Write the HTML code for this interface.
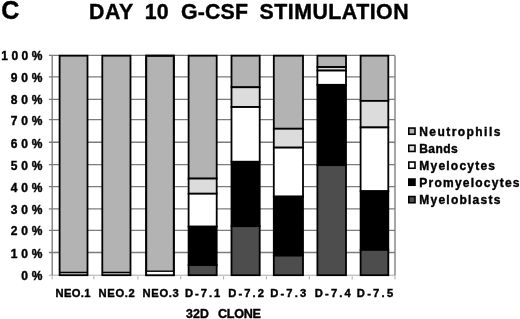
<!DOCTYPE html>
<html><head><meta charset="utf-8"><title>Day 10 G-CSF Stimulation</title>
<style>
html,body{margin:0;padding:0;background:#fff;}
body{width:520px;height:319px;position:relative;overflow:hidden;font-family:"Liberation Sans",sans-serif;}
.t{position:absolute;white-space:pre;font-weight:bold;color:#000;line-height:normal;font-kerning:normal;-webkit-text-stroke:0.4px #000;}
</style></head><body>
<svg width="520" height="319" viewBox="0 0 520 319" style="position:absolute;left:0;top:0">
<line x1="48.900000000000006" y1="275.2" x2="395.0" y2="275.2" stroke="#a0a0a0" stroke-width="0.9"/>
<line x1="48.900000000000006" y1="252.50" x2="395.0" y2="252.50" stroke="#7c7c7c" stroke-width="1.35"/>
<line x1="48.900000000000006" y1="230.40" x2="395.0" y2="230.40" stroke="#7c7c7c" stroke-width="1.35"/>
<line x1="48.900000000000006" y1="208.80" x2="395.0" y2="208.80" stroke="#7c7c7c" stroke-width="1.35"/>
<line x1="48.900000000000006" y1="186.60" x2="395.0" y2="186.60" stroke="#7c7c7c" stroke-width="1.35"/>
<line x1="48.900000000000006" y1="164.65" x2="395.0" y2="164.65" stroke="#7c7c7c" stroke-width="1.35"/>
<line x1="48.900000000000006" y1="142.20" x2="395.0" y2="142.20" stroke="#7c7c7c" stroke-width="1.35"/>
<line x1="48.900000000000006" y1="119.60" x2="395.0" y2="119.60" stroke="#7c7c7c" stroke-width="1.35"/>
<line x1="48.900000000000006" y1="99.40" x2="395.0" y2="99.40" stroke="#7c7c7c" stroke-width="1.35"/>
<line x1="48.900000000000006" y1="76.85" x2="395.0" y2="76.85" stroke="#7c7c7c" stroke-width="1.35"/>
<line x1="48.900000000000006" y1="55.40" x2="395.0" y2="55.40" stroke="#7c7c7c" stroke-width="1.35"/>
<line x1="52.2" y1="55.40" x2="52.2" y2="275.6" stroke="#7c7c7c" stroke-width="1.35"/>
<line x1="395.0" y1="55.40" x2="395.0" y2="275.6" stroke="#7c7c7c" stroke-width="1.35"/>
<line x1="52.20" y1="276.3" x2="52.20" y2="279.3" stroke="#9c9c9c" stroke-width="0.9"/>
<line x1="93.85" y1="276.3" x2="93.85" y2="279.3" stroke="#9c9c9c" stroke-width="0.9"/>
<line x1="137.90" y1="276.3" x2="137.90" y2="279.3" stroke="#9c9c9c" stroke-width="0.9"/>
<line x1="180.75" y1="276.3" x2="180.75" y2="279.3" stroke="#9c9c9c" stroke-width="0.9"/>
<line x1="223.60" y1="276.3" x2="223.60" y2="279.3" stroke="#9c9c9c" stroke-width="0.9"/>
<line x1="266.45" y1="276.3" x2="266.45" y2="279.3" stroke="#9c9c9c" stroke-width="0.9"/>
<line x1="309.30" y1="276.3" x2="309.30" y2="279.3" stroke="#9c9c9c" stroke-width="0.9"/>
<line x1="352.15" y1="276.3" x2="352.15" y2="279.3" stroke="#9c9c9c" stroke-width="0.9"/>
<line x1="395.00" y1="276.3" x2="395.00" y2="279.3" stroke="#9c9c9c" stroke-width="0.9"/>
<rect x="59.60" y="55.70" width="27.90" height="219.50" fill="#b3b3b3" stroke="#000" stroke-width="1.8"/>
<line x1="59.60" y1="272.41" x2="87.50" y2="272.41" stroke="#000" stroke-width="1.4"/>
<rect x="102.30" y="55.70" width="28.20" height="219.50" fill="#b3b3b3" stroke="#000" stroke-width="1.8"/>
<line x1="102.30" y1="272.41" x2="130.50" y2="272.41" stroke="#000" stroke-width="1.4"/>
<rect x="146.20" y="55.70" width="27.60" height="219.50" fill="#b3b3b3" stroke="#000" stroke-width="1.8"/>
<rect x="146.20" y="271.21" width="27.60" height="3.99" fill="#ffffff" stroke="none"/>
<rect x="146.20" y="55.70" width="27.60" height="219.50" fill="none" stroke="#000" stroke-width="1.8"/>
<line x1="146.20" y1="271.21" x2="173.80" y2="271.21" stroke="#000" stroke-width="1.4"/>
<rect x="188.60" y="55.70" width="28.10" height="122.88" fill="#b3b3b3" stroke="#000" stroke-width="1.8"/>
<rect x="188.60" y="178.58" width="28.10" height="15.15" fill="#dcdcdc" stroke="#000" stroke-width="1.8"/>
<rect x="188.60" y="193.72" width="28.10" height="32.92" fill="#ffffff" stroke="#000" stroke-width="1.8"/>
<rect x="188.60" y="226.65" width="28.10" height="38.41" fill="#000000" stroke="#000" stroke-width="1.8"/>
<rect x="188.60" y="265.06" width="28.10" height="10.14" fill="#4d4d4d" stroke="#000" stroke-width="1.8"/>
<rect x="231.50" y="55.70" width="28.20" height="31.57" fill="#b3b3b3" stroke="#000" stroke-width="1.8"/>
<rect x="231.50" y="87.27" width="28.20" height="19.76" fill="#dcdcdc" stroke="#000" stroke-width="1.8"/>
<rect x="231.50" y="107.02" width="28.20" height="54.77" fill="#ffffff" stroke="#000" stroke-width="1.8"/>
<rect x="231.50" y="161.79" width="28.20" height="64.42" fill="#000000" stroke="#000" stroke-width="1.8"/>
<rect x="231.50" y="226.21" width="28.20" height="48.99" fill="#4d4d4d" stroke="#000" stroke-width="1.8"/>
<rect x="273.80" y="55.70" width="29.20" height="73.05" fill="#b3b3b3" stroke="#000" stroke-width="1.8"/>
<rect x="273.80" y="128.75" width="29.20" height="18.88" fill="#dcdcdc" stroke="#000" stroke-width="1.8"/>
<rect x="273.80" y="147.63" width="29.20" height="48.95" fill="#ffffff" stroke="#000" stroke-width="1.8"/>
<rect x="273.80" y="196.58" width="29.20" height="59.05" fill="#000000" stroke="#000" stroke-width="1.8"/>
<rect x="273.80" y="255.62" width="29.20" height="19.58" fill="#4d4d4d" stroke="#000" stroke-width="1.8"/>
<rect x="317.40" y="55.70" width="28.60" height="11.37" fill="#b3b3b3" stroke="#000" stroke-width="1.8"/>
<rect x="317.40" y="67.07" width="28.60" height="3.51" fill="#dcdcdc" stroke="#000" stroke-width="1.8"/>
<rect x="317.40" y="70.58" width="28.60" height="14.27" fill="#ffffff" stroke="#000" stroke-width="1.8"/>
<rect x="317.40" y="84.85" width="28.60" height="80.34" fill="#000000" stroke="#000" stroke-width="1.8"/>
<rect x="317.40" y="165.19" width="28.60" height="110.01" fill="#4d4d4d" stroke="#000" stroke-width="1.8"/>
<rect x="360.60" y="55.70" width="27.70" height="45.18" fill="#b3b3b3" stroke="#000" stroke-width="1.8"/>
<rect x="360.60" y="100.88" width="27.70" height="26.56" fill="#dcdcdc" stroke="#000" stroke-width="1.8"/>
<rect x="360.60" y="127.44" width="27.70" height="63.76" fill="#ffffff" stroke="#000" stroke-width="1.8"/>
<rect x="360.60" y="191.20" width="27.70" height="58.72" fill="#000000" stroke="#000" stroke-width="1.8"/>
<rect x="360.60" y="249.92" width="27.70" height="25.28" fill="#4d4d4d" stroke="#000" stroke-width="1.8"/>
<rect x="408.8" y="128.05" width="6.2" height="6.2" fill="#b3b3b3" stroke="#000" stroke-width="1.6"/>
<rect x="408.8" y="145.25" width="6.2" height="6.2" fill="#dcdcdc" stroke="#000" stroke-width="1.6"/>
<rect x="408.8" y="162.05" width="6.2" height="6.2" fill="#ffffff" stroke="#000" stroke-width="1.6"/>
<rect x="408.8" y="179.05" width="6.2" height="6.2" fill="#000000" stroke="#000" stroke-width="1.6"/>
<rect x="408.8" y="196.55" width="6.2" height="6.2" fill="#4d4d4d" stroke="#000" stroke-width="1.6"/>
</svg>
<div class="t" style="left:1.23px;top:-3.82px;font-size:25px;letter-spacing:0.00px">C</div>
<div class="t" style="left:89.05px;top:0.18px;font-size:21.3px;letter-spacing:0.62px">DAY</div>
<div class="t" style="left:144.70px;top:0.18px;font-size:21.3px;letter-spacing:0.20px">10</div>
<div class="t" style="left:180.88px;top:0.18px;font-size:21.3px;letter-spacing:0.20px">G-CSF</div>
<div class="t" style="left:259.62px;top:0.18px;font-size:21.3px;letter-spacing:0.50px">STIMULATION</div>
<div class="t" style="left:55.60px;top:287.48px;font-size:11.2px;letter-spacing:0.33px">NEO.1</div>
<div class="t" style="left:98.50px;top:287.48px;font-size:11.2px;letter-spacing:0.68px">NEO.2</div>
<div class="t" style="left:142.60px;top:287.48px;font-size:11.2px;letter-spacing:0.63px">NEO.3</div>
<div class="t" style="left:185.00px;top:287.48px;font-size:11.2px;letter-spacing:1.96px">D-7.1</div>
<div class="t" style="left:228.30px;top:287.48px;font-size:11.2px;letter-spacing:2.07px">D-7.2</div>
<div class="t" style="left:270.30px;top:287.48px;font-size:11.2px;letter-spacing:2.13px">D-7.3</div>
<div class="t" style="left:314.80px;top:287.48px;font-size:11.2px;letter-spacing:2.17px">D-7.4</div>
<div class="t" style="left:356.80px;top:287.48px;font-size:11.2px;letter-spacing:2.26px">D-7.5</div>
<div class="t" style="left:185.98px;top:306.68px;font-size:12.3px;letter-spacing:0.14px">32D</div>
<div class="t" style="left:218.03px;top:306.68px;font-size:12.6px;letter-spacing:-0.27px">CLONE</div>
<div class="t" style="left:419.28px;top:124.67px;font-size:12.0px;letter-spacing:1.44px">Neutrophils</div>
<div class="t" style="left:419.28px;top:141.88px;font-size:12.0px;letter-spacing:0.41px">Bands</div>
<div class="t" style="left:419.28px;top:158.67px;font-size:12.0px;letter-spacing:1.23px">Myelocytes</div>
<div class="t" style="left:419.28px;top:175.67px;font-size:12.0px;letter-spacing:1.24px">Promyelocytes</div>
<div class="t" style="left:419.28px;top:193.17px;font-size:12.0px;letter-spacing:1.24px">Myeloblasts</div>
<div class="t" style="left:1.28px;top:49.47px;font-size:12.0px;letter-spacing:3.50px">100%</div>
<div class="t" style="left:10.63px;top:70.92px;font-size:12.0px;letter-spacing:3.95px">90%</div>
<div class="t" style="left:10.63px;top:93.48px;font-size:12.0px;letter-spacing:3.95px">80%</div>
<div class="t" style="left:10.63px;top:113.67px;font-size:12.0px;letter-spacing:3.95px">70%</div>
<div class="t" style="left:10.63px;top:137.18px;font-size:12.0px;letter-spacing:3.95px">60%</div>
<div class="t" style="left:10.63px;top:158.73px;font-size:12.0px;letter-spacing:3.95px">50%</div>
<div class="t" style="left:10.63px;top:180.68px;font-size:12.0px;letter-spacing:3.95px">40%</div>
<div class="t" style="left:10.63px;top:202.88px;font-size:12.0px;letter-spacing:3.95px">30%</div>
<div class="t" style="left:10.63px;top:224.48px;font-size:12.0px;letter-spacing:3.95px">20%</div>
<div class="t" style="left:10.63px;top:246.57px;font-size:12.0px;letter-spacing:3.95px">10%</div>
<div class="t" style="left:21.20px;top:268.68px;font-size:12.0px;letter-spacing:3.95px">0%</div>
</body></html>
